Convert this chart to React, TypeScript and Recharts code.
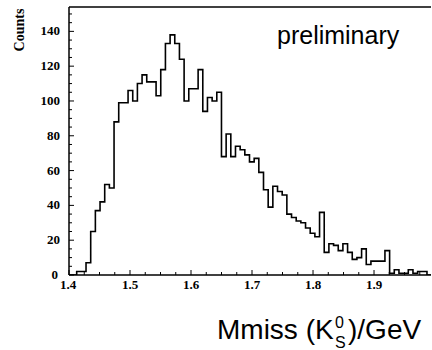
import React from 'react';
import { LineChart, Line, XAxis, YAxis, ReferenceLine } from 'recharts';

// Histogram binning (bin lower edges)
const BIN_START = 1.4126;
const BIN_WIDTH = 0.007656;
const X_MIN = 1.4;
const X_MAX = 1.9934;
const Y_MAX = 154;

// Counts per bin
const binCounts = [
  2, 2, 7, 25, 37, 42, 52, 50, 88, 99,
  99, 106, 100, 110, 115, 111, 111, 103, 118, 133,
  138, 133, 124, 100, 107, 107, 118, 94, 102, 100,
  105, 68, 81, 68, 74, 72, 69, 65, 67, 59,
  49, 39, 51, 48, 46, 35, 33, 31, 30, 27,
  24, 22, 36, 13, 18, 17, 14, 18, 13, 9,
  10, 15, 6, 8, 8, 8, 14, 1, 3, 1,
  1, 3, 1, 2, 2, 0,
];

const xTicks = [
  1.4, 1.425, 1.45, 1.475, 1.5, 1.525, 1.55, 1.575, 1.6, 1.625, 1.65, 1.675,
  1.7, 1.725, 1.75, 1.775, 1.8, 1.825, 1.85, 1.875, 1.9, 1.925, 1.95, 1.975,
];
const xTickLabels = [1.4, 1.5, 1.6, 1.7, 1.8, 1.9];
const yTicks = [
  0, 5, 10, 15, 20, 25, 30, 35, 40, 45, 50, 55, 60, 65, 70, 75, 80, 85, 90, 95,
  100, 105, 110, 115, 120, 125, 130, 135, 140, 145, 150,
];
const yTickLabels = [0, 20, 40, 60, 80, 100, 120, 140];

const data = [
  { x: X_MIN, y: 0 },
  ...binCounts.map((c, i) => ({ x: BIN_START + i * BIN_WIDTH, y: c })),
  { x: X_MAX, y: 0 },
];

const labelFont = {
  fontFamily: '"Liberation Serif", "DejaVu Serif", serif',
  fontWeight: 700,
  fontSize: 13,
};

const XTick = (props: any) => {
  const { x, y, payload } = props;
  const v = payload.value as number;
  const major = xTickLabels.some((t) => Math.abs(t - v) < 1e-6);
  return (
    <g>
      <line x1={x} y1={y} x2={x} y2={y - (major ? 5 : 3)} stroke="#000" strokeWidth={1} />
      {major && (
        <text x={Math.abs(v - 1.4) < 1e-6 ? x - 1 : x} y={y + 14} textAnchor="middle" fill="#000" style={labelFont}>
          {v.toFixed(1)}
        </text>
      )}
    </g>
  );
};

const YTick = (props: any) => {
  const { x, y, payload } = props;
  const v = payload.value as number;
  const major = yTickLabels.includes(v);
  return (
    <g>
      <line x1={x} y1={y} x2={x + (major ? 5 : 3)} y2={y} stroke="#000" strokeWidth={1} />
      {major && (
        <text x={x - (v === 0 ? 11 : 9)} y={y + 4} textAnchor="end" fill="#000" style={labelFont}>
          {v}
        </text>
      )}
    </g>
  );
};

export default function App() {
  return (
    <div style={{ position: 'absolute', left: 0, top: 0, width: 432, height: 350, background: '#fff' }}>
      <LineChart
        width={432}
        height={350}
        data={data}
        margin={{ top: 7, right: 1, bottom: 55, left: 0 }}
      >
        <XAxis
          dataKey="x"
          type="number"
          domain={[X_MIN, X_MAX]}
          allowDataOverflow
          ticks={xTicks}
          interval={0}
          tickSize={0}
          tickMargin={0}
          tickLine={false}
          tick={XTick}
          height={20}
          axisLine={{ stroke: '#000', strokeWidth: 1.5 }}
        />
        <YAxis
          type="number"
          domain={[0, Y_MAX]}
          allowDataOverflow
          ticks={yTicks}
          interval={0}
          tickSize={0}
          tickMargin={0}
          tickLine={false}
          tick={YTick}
          width={69}
          axisLine={{ stroke: '#000', strokeWidth: 1.5 }}
        />
        <ReferenceLine y={Y_MAX} stroke="#000" strokeWidth={1.5} />
        <Line
          type="stepAfter"
          dataKey="y"
          stroke="#000"
          strokeWidth={1.6}
          dot={false}
          isAnimationActive={false}
        />
      </LineChart>
      <svg
        width={432}
        height={350}
        style={{ position: 'absolute', left: 0, top: 0, pointerEvents: 'none' }}
      >
        <text
          transform="translate(24, 30) rotate(-90)"
          textAnchor="middle"
          fill="#000"
          style={{ fontFamily: '"Liberation Serif", serif', fontWeight: 700, fontSize: 14 }}
        >
          Counts
        </text>
        <text
          x={277}
          y={44}
          fill="#000"
          style={{ fontFamily: '"Liberation Sans", Arial, sans-serif', fontSize: 25 }}
        >
          preliminary
        </text>
        <g style={{ fontFamily: '"Liberation Sans", Arial, sans-serif' }} fill="#000">
          <text x={217} y={339} style={{ fontSize: 28 }}>
            Mmiss (K
          </text>
          <text x={335} y={328} style={{ fontSize: 16 }}>0</text>
          <text x={335} y={348} style={{ fontSize: 16 }}>S</text>
          <text x={348} y={339} style={{ fontSize: 28 }}>
            )/GeV
          </text>
        </g>
      </svg>
    </div>
  );
}
